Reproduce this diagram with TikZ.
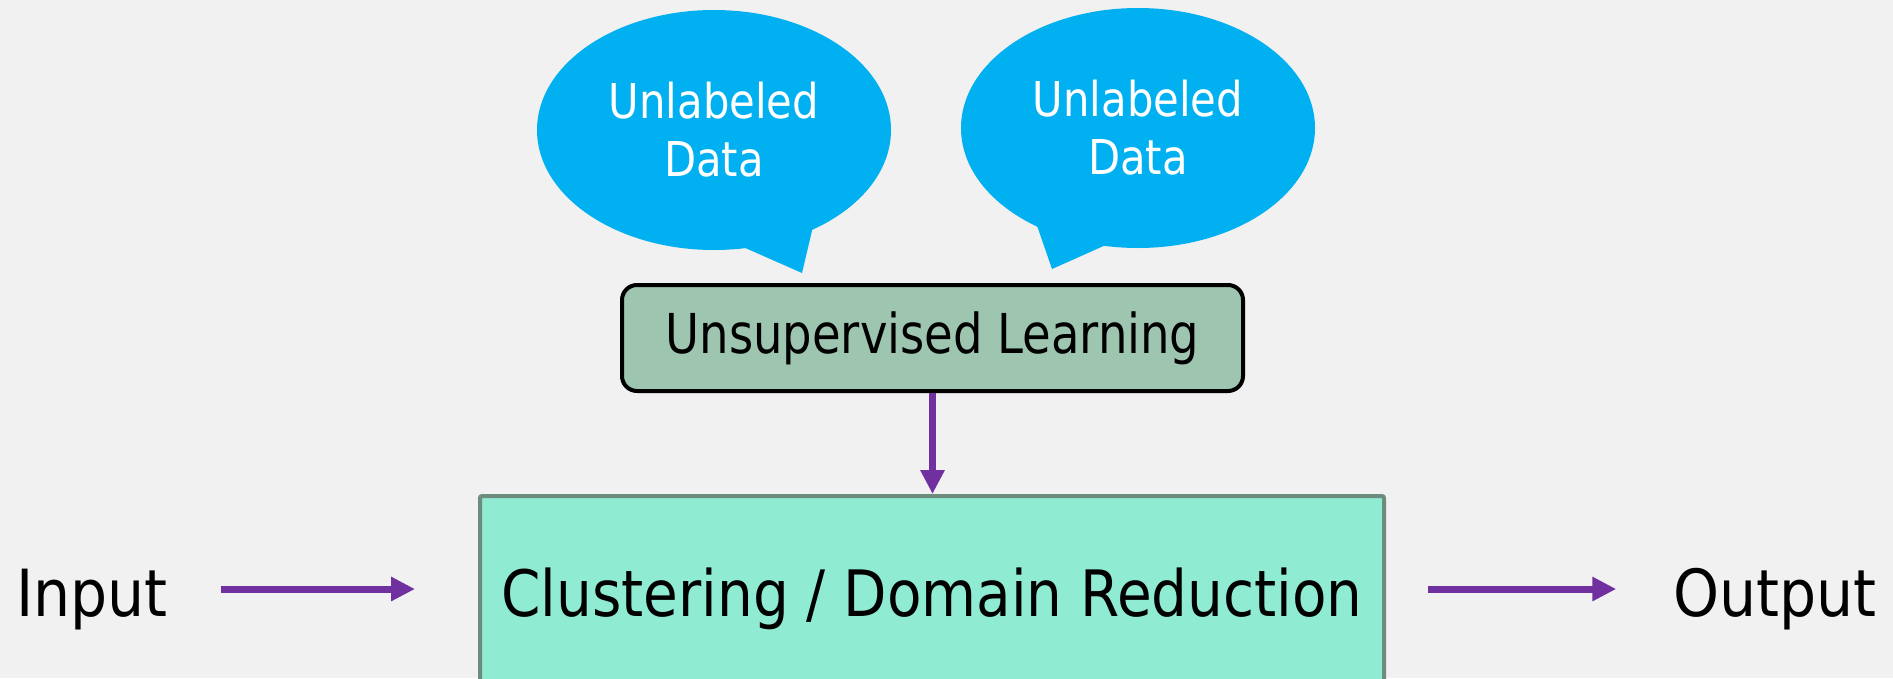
\documentclass[tikz,border=0pt]{standalone}
\usepackage{fontspec}
\setmainfont{DejaVu Sans Condensed}
\newfontfamily\learnfont{DejaVu Sans Condensed}[FakeStretch=0.94]
\newfontfamily\clusterfont{DejaVu Sans Condensed}[FakeStretch=0.98]
\newfontfamily\bubblefont{DejaVu Sans Condensed}[FakeStretch=0.966]
\usetikzlibrary{arrows.meta,shapes.geometric}

\definecolor{bg}{HTML}{F1F1F1}
\definecolor{bubblecol}{HTML}{00B0F0}
\definecolor{learnfill}{HTML}{9EC5B0}
\definecolor{clusterfill}{HTML}{90EBD3}
\definecolor{clusterline}{HTML}{6E8C7E}
\definecolor{flowcol}{HTML}{7030A0}

\tikzset{
  bubble/.style={ellipse, fill=bubblecol, inner sep=0pt,
    minimum width=354, minimum height=240, text=white, align=center,
    font=\bubblefont\fontsize{48}{58}\selectfont},
  tail/.style={fill=bubblecol},
  learnbox/.style={draw=black, line width=4pt, fill=learnfill,
    rounded corners=15pt, minimum width=621, minimum height=106,
    inner sep=0pt, font=\learnfont\fontsize{55}{62}\selectfont},
  clusterbox/.style={draw=clusterline, line width=4pt, fill=clusterfill,
    rounded corners=2pt, minimum width=904, minimum height=191,
    inner sep=0pt, text height=49pt, text depth=0pt,
    font=\clusterfont\fontsize{64}{72}\selectfont},
  plainlabel/.style={inner sep=0pt, text height=60pt, text depth=6pt,
    font=\fontsize{65}{72}\selectfont},
  flow/.style={draw=flowcol, line width=7pt,
    -{Triangle[length=24pt,width=23pt]}},
}

\begin{document}
\begin{tikzpicture}[x=1pt,y=-1pt]
  % page area and background
  \useasboundingbox (0,0) rectangle (1893,678);
  \clip (0,0) rectangle (1893,678);
  \fill[bg] (0,0) rectangle (1893,678);

  % speech bubbles, each an ellipse with a pointed tail
  \fill[tail] (734,243) -- (802,273) -- (815,218) -- cycle;
  \node[bubble] (b1) at (714,130) {Unlabeled\\Data};
  \fill[tail] (1034,217) -- (1052,269) -- (1117,240) -- cycle;
  \node[bubble] (b2) at (1138,128) {Unlabeled\\Data};

  % learning stage and main processing block
  \node[learnbox] (learn) at (932.5,338) {Unsupervised Learning};
  \node[clusterbox] (clu) at (932,591.5) {Clustering / Domain Reduction};

  % side labels
  \node[plainlabel] (in) at (92,589) {Input};
  \node[plainlabel] (out) at (1775,589) {Output};

  % connectors
  \draw[flow] (learn.south) -- (learn.south |- clu.north);
  \draw[flow, shorten <=53pt, shorten >=63pt] (in.east) -- (in.east -| clu.west);
  \draw[flow, shorten <=42pt, shorten >=57pt] (out.west -| clu.east) -- (out.west);
\end{tikzpicture}
\end{document}
